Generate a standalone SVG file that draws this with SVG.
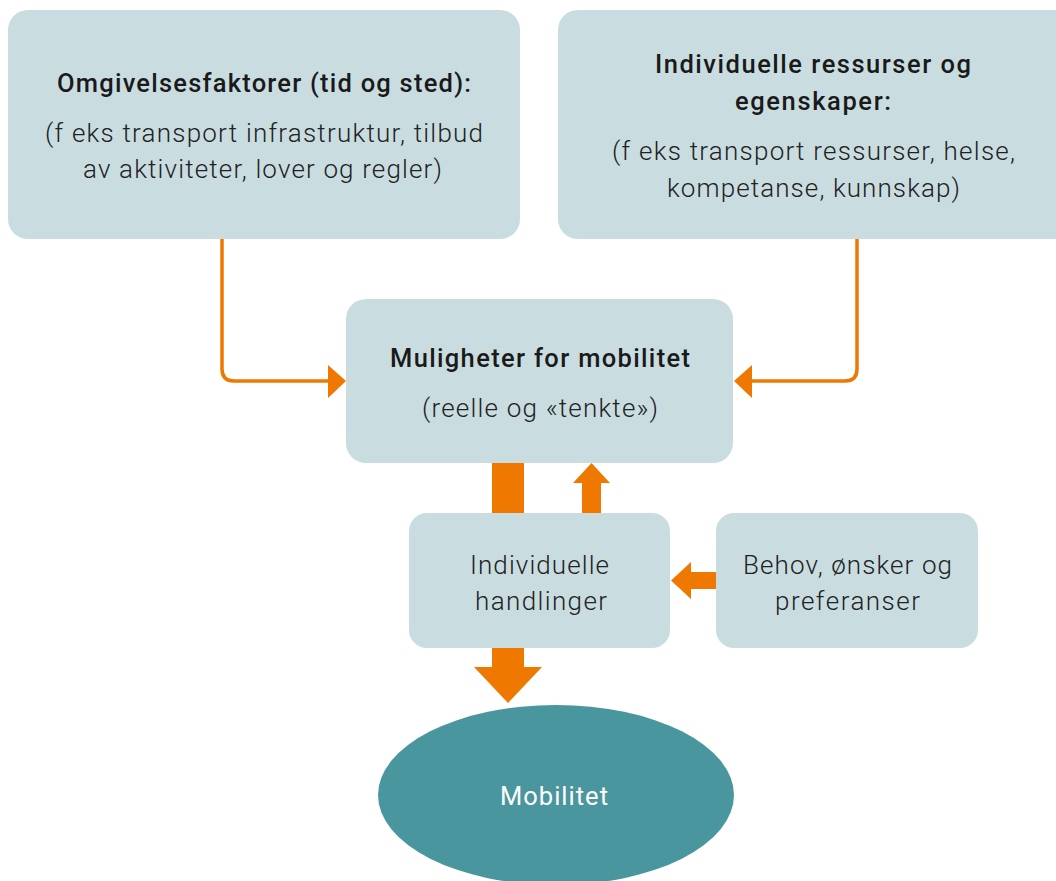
<svg xmlns="http://www.w3.org/2000/svg" width="1056" height="881" viewBox="0 0 1056 881">
<style>
.box{fill:#C9DDE1}
.t{font-family:Roboto,"Liberation Sans",sans-serif;font-size:25.5px;font-weight:500;fill:#1a1a1a;text-anchor:middle}
.s{font-family:Roboto,"Liberation Sans",sans-serif;font-size:26px;font-weight:300;fill:#222;text-anchor:middle}
.line{fill:none;stroke:#EF7800;stroke-width:3.5}
.ar{fill:#EF7800}
</style>
<rect width="1056" height="881" fill="#fff"/>
<g id="omgivelse">
<rect class="box" x="8" y="10" width="512" height="229" rx="20"/>
<text class="t" x="264" y="92" textLength="414" lengthAdjust="spacing">Omgivelsesfaktorer (tid og sted):</text>
<text class="s" x="264" y="142" textLength="438" lengthAdjust="spacing">(f eks transport infrastruktur, tilbud</text>
<text class="s" x="262.5" y="178" textLength="359" lengthAdjust="spacing">av aktiviteter, lover og regler)</text>
</g>
<g id="individuelle-ressurser">
<rect class="box" x="558" y="10" width="520" height="229" rx="20"/>
<text class="t" x="813" y="73" textLength="316" lengthAdjust="spacing">Individuelle ressurser og</text>
<text class="t" x="813" y="110" textLength="156" lengthAdjust="spacing">egenskaper:</text>
<text class="s" x="813.5" y="160" textLength="403" lengthAdjust="spacing">(f eks transport ressurser, helse,</text>
<text class="s" x="813.5" y="197" textLength="293" lengthAdjust="spacing">kompetanse, kunnskap)</text>
</g>
<g id="muligheter">
<rect class="box" x="346" y="299" width="387" height="164" rx="20"/>
<text class="t" x="540" y="367" textLength="300" lengthAdjust="spacing">Muligheter for mobilitet</text>
<text class="s" x="540" y="417" textLength="236" lengthAdjust="spacing">(reelle og «tenkte»)</text>
</g>
<g id="handlinger">
<rect class="box" x="409" y="513" width="261" height="135" rx="18"/>
<text class="s" x="539.5" y="574" textLength="139" lengthAdjust="spacing">Individuelle</text>
<text class="s" x="541" y="610" textLength="132" lengthAdjust="spacing">handlinger</text>
</g>
<g id="behov">
<rect class="box" x="716" y="513" width="262" height="135" rx="18"/>
<text class="s" x="847.5" y="574" textLength="209" lengthAdjust="spacing">Behov, ønsker og</text>
<text class="s" x="847.5" y="610" textLength="145" lengthAdjust="spacing">preferanser</text>
</g>
<g id="mobilitet">
<ellipse cx="556" cy="795" rx="178" ry="90" fill="#4A969E"/>
<text class="t" x="554" y="805" textLength="108" lengthAdjust="spacing" style="fill:#fff;font-weight:400">Mobilitet</text>
</g>
<g id="connectors">
<path class="line" d="M222 239 V369 Q222 381 234 381 H330"/>
<polygon class="ar" points="328,365 346,381 328,398"/>
<path class="line" d="M857 239 V369 Q857 381 845 381 H750"/>
<polygon class="ar" points="752,365 734,381 752,398"/>
<rect class="ar" x="492" y="463" width="32" height="50"/>
<polygon class="ar" points="582,513 582,483 573,483 591.5,463 610,483 601,483 601,513"/>
<polygon class="ar" points="492,648 524,648 524,667 542,667 508,703 474,667 492,667"/>
<polygon class="ar" points="716,572 691,572 691,562 671,580.5 691,599 691,589 716,589"/>
</g>
</svg>
